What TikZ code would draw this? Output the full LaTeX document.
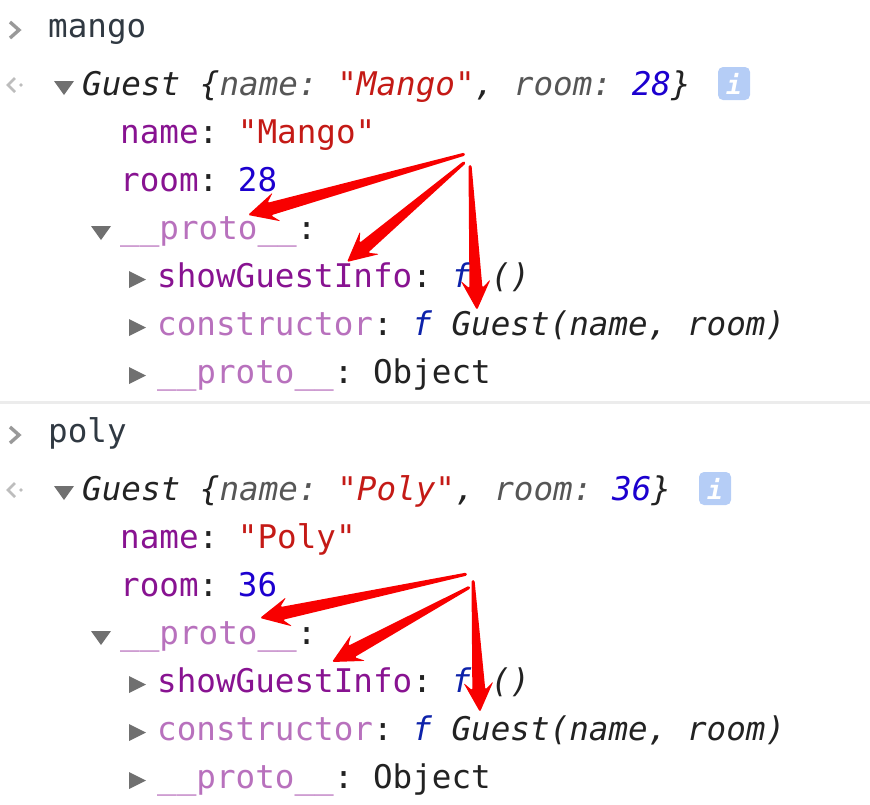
\documentclass[tikz,border=0pt]{standalone}
\usepackage{fontspec}
\setmonofont{DejaVu Sans Mono}
\usetikzlibrary{calc}
\definecolor{ink}{HTML}{222222}
\definecolor{slate}{HTML}{303942}
\definecolor{keygray}{HTML}{565656}
\definecolor{strred}{HTML}{C41A16}
\definecolor{numblue}{HTML}{1C00CF}
\definecolor{fnblue}{HTML}{0D22AA}
\definecolor{prop}{HTML}{881391}
\definecolor{propl}{HTML}{B871BD}
\definecolor{trigray}{HTML}{707070}
\definecolor{promptgray}{HTML}{999999}
\definecolor{backgray}{HTML}{BDBDBD}
\definecolor{iconblue}{HTML}{B5CDF6}
\definecolor{sepgray}{HTML}{ECECEC}
\definecolor{arrowred}{HTML}{F80000}
% tapered arrow from tail #1 to tip #2
\newcommand{\skitch}[2]{\fill[arrowred,rounded corners=1.5pt] ($(#1)!1.5pt!90:(#2)$) -- ($(#2)!22pt!(#1)!6.5pt!-90:(#1)$) -- ($(#2)!30pt!(#1)!15pt!-90:(#1)$) -- (#2) -- ($(#2)!30pt!(#1)!15pt!90:(#1)$) -- ($(#2)!22pt!(#1)!6.5pt!90:(#1)$) -- ($(#1)!1.5pt!-90:(#2)$) -- cycle;}

\begin{document}
\begin{tikzpicture}[x=1pt,y=-1pt,
    txt/.style={anchor=base west,inner sep=0pt,text=ink,font=\ttfamily\fontsize{32.6}{40}\selectfont},
    caret/.style={fill=trigray},
    prompt/.style={draw=promptgray,line width=3.4pt},
    back/.style={draw=backgray,line width=2.6pt},
    info/.style={fill=iconblue,rounded corners=5pt,minimum width=32pt,minimum height=33pt,inner sep=0pt,text=white,font=\ttfamily\bfseries\itshape\fontsize{26}{30}\selectfont}]
  \useasboundingbox (0,0) rectangle (870,804);
  % mango
  \draw[prompt] (10,22) -- (19,30) -- (10,38);
  \node[txt,text=slate] (mango) at (48,37) {mango};
  \draw[back] (15,78) -- (8,85) -- (15,92);
  \fill[backgray] (21,85) circle (1.8);
  \fill[caret] (54,81) -- (74,81) -- (64,95) -- cycle;
  \node[txt] (mhead) at (82,95) {\itshape Guest \{\textcolor{keygray}{name:} \textcolor{strred}{"Mango"}, \textcolor{keygray}{room:} \textcolor{numblue}{28}\}};
  \node[info] (minfo) at (734,83.5) {i};
  \node[txt] (mname) at (120,143) {\textcolor{prop}{name}: \textcolor{strred}{"Mango"}};
  \node[txt] (mroom) at (120,191) {\textcolor{prop}{room}: \textcolor{numblue}{28}};
  \fill[caret] (91,226) -- (111,226) -- (101,240) -- cycle;
  \node[txt] (mproto) at (120,239) {\textcolor{propl}{\_\_proto\_\_}:};
  \fill[caret] (129,271) -- (146,279.5) -- (129,288) -- cycle;
  \node[txt] (mshow) at (157,287) {\textcolor{prop}{showGuestInfo}: \textcolor{fnblue}{\itshape f} {\itshape ()}};
  \fill[caret] (129,319) -- (146,327.5) -- (129,336) -- cycle;
  \node[txt] (mcons) at (157,335) {\textcolor{propl}{constructor}: \textcolor{fnblue}{\itshape f} {\itshape Guest(name, room)}};
  \fill[caret] (129,367) -- (146,375.5) -- (129,384) -- cycle;
  \node[txt] (mobj) at (157,383) {\textcolor{propl}{\_\_proto\_\_}: Object};

  \draw[sepgray,line width=3pt] (0,402) -- (870,402);

  % poly
  \draw[prompt] (10,427) -- (19,435) -- (10,443);
  \node[txt,text=slate] (poly) at (48,442) {poly};
  \draw[back] (15,483) -- (8,490) -- (15,497);
  \fill[backgray] (21,490) circle (1.8);
  \fill[caret] (54,486) -- (74,486) -- (64,500) -- cycle;
  \node[txt] (phead) at (82,500) {\itshape Guest \{\textcolor{keygray}{name:} \textcolor{strred}{"Poly"}, \textcolor{keygray}{room:} \textcolor{numblue}{36}\}};
  \node[info] (pinfo) at (715,488.5) {i};
  \node[txt] (pname) at (120,548) {\textcolor{prop}{name}: \textcolor{strred}{"Poly"}};
  \node[txt] (proom) at (120,596) {\textcolor{prop}{room}: \textcolor{numblue}{36}};
  \fill[caret] (91,631) -- (111,631) -- (101,645) -- cycle;
  \node[txt] (pproto) at (120,644) {\textcolor{propl}{\_\_proto\_\_}:};
  \fill[caret] (129,676) -- (146,684.5) -- (129,693) -- cycle;
  \node[txt] (pshow) at (157,692) {\textcolor{prop}{showGuestInfo}: \textcolor{fnblue}{\itshape f} {\itshape ()}};
  \fill[caret] (129,724) -- (146,732.5) -- (129,741) -- cycle;
  \node[txt] (pcons) at (157,740) {\textcolor{propl}{constructor}: \textcolor{fnblue}{\itshape f} {\itshape Guest(name, room)}};
  \fill[caret] (129,772) -- (146,780.5) -- (129,789) -- cycle;
  \node[txt] (pobj) at (157,788) {\textcolor{propl}{\_\_proto\_\_}: Object};

  % red arrows
  \coordinate (mt1) at (465,154); \coordinate (mh1) at (248,215);
  \coordinate (mt2) at (465,162); \coordinate (mh2) at (347,262);
  \coordinate (mt3) at (470,165); \coordinate (mh3) at (477,310);
  \coordinate (pt1) at (467,574); \coordinate (ph1) at (260,618);
  \coordinate (pt2) at (470,587); \coordinate (ph2) at (332,662);
  \coordinate (pt3) at (473,580); \coordinate (ph3) at (480,712);
  \skitch{mt1}{mh1} \skitch{mt2}{mh2} \skitch{mt3}{mh3}
  \skitch{pt1}{ph1} \skitch{pt2}{ph2} \skitch{pt3}{ph3}
\end{tikzpicture}
\end{document}
